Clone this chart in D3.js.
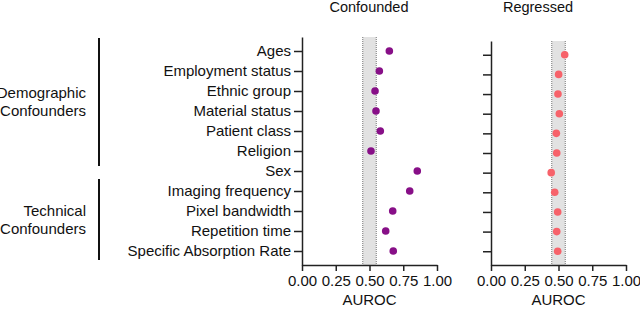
<!DOCTYPE html>
<html>
<head>
<meta charset="utf-8">
<script src="https://cdn.jsdelivr.net/npm/d3@7"></script>
<style>
  body { margin: 0; background: #fff; }
  svg { font-family: "Liberation Sans", Arial, sans-serif; }
  .axis path, .axis line { stroke: #222; stroke-width: 1.5; }
  .axis text { font-size: 15px; fill: #111; font-family: "Liberation Sans", Arial, sans-serif; }
</style>
</head>
<body>
<svg width="640" height="312"></svg>
<script>
  const svg = d3.select('svg');

  const features = ['Ages', 'Employment status', 'Ethnic group', 'Material status',
    'Patient class', 'Religion', 'Sex', 'Imaging frequency', 'Pixel bandwidth',
    'Repetition time', 'Specific Absorption Rate'];
  const confounded = [0.647, 0.573, 0.541, 0.548, 0.58, 0.511, 0.854, 0.798, 0.672, 0.62, 0.676];
  const regressed = [0.546, 0.501, 0.496, 0.506, 0.484, 0.487, 0.446, 0.472, 0.494, 0.487, 0.494];
  const band = [0.45, 0.55];
  const xTicks = [0, 0.25, 0.5, 0.75, 1];
  const groups = [
    { lines: ['Demographic', 'Confounders'], from: 'Ages', to: 'Sex' },
    { lines: ['Technical', 'Confounders'], from: 'Imaging frequency', to: 'Specific Absorption Rate' }
  ];

  const panels = [
    { title: 'Confounded', values: confounded, color: '#870f87', x0: 302, x1: 437, top: 37, titleX: 369, labels: true },
    { title: 'Regressed', values: regressed, color: '#f7626a', x0: 491, x1: 626, top: 41, titleX: 538, labels: false }
  ];
  const bottom = 265;

  panels.forEach(p => {
    const x = d3.scaleLinear().domain([0, 1]).range([p.x0, p.x1]);
    const y = d3.scalePoint().domain(features).range([p.top, bottom]).padding(0.7);
    const g = svg.append('g');

    // chance band
    g.append('rect')
      .attr('x', x(band[0])).attr('y', p.top)
      .attr('width', x(band[1]) - x(band[0]))
      .attr('height', bottom - p.top)
      .attr('fill', '#e2e2e2');
    band.forEach(b => {
      g.append('line')
        .attr('x1', x(b)).attr('x2', x(b))
        .attr('y1', p.top).attr('y2', bottom)
        .attr('stroke', '#777').attr('stroke-width', 1)
        .attr('stroke-dasharray', '1,1');
    });

    const yAxis = d3.axisLeft(y).tickSize(8).tickSizeOuter(0).tickPadding(3);
    if (!p.labels) yAxis.tickFormat('');
    g.append('g').attr('class', 'axis')
      .attr('transform', `translate(${p.x0},0)`)
      .call(yAxis);

    g.append('g').attr('class', 'axis')
      .attr('transform', `translate(0,${bottom})`)
      .call(d3.axisBottom(x).tickValues(xTicks).tickFormat(d3.format('.2f'))
        .tickSize(6).tickSizeOuter(0).tickPadding(4));

    g.selectAll('circle').data(p.values).enter()
      .append('circle')
      .attr('cx', d => x(d))
      .attr('cy', (d, i) => y(features[i]))
      .attr('r', 3.8)
      .attr('fill', p.color);

    g.append('text')
      .attr('x', (p.x0 + p.x1) / 2).attr('y', 305)
      .attr('text-anchor', 'middle')
      .attr('font-size', 15).attr('fill', '#111')
      .text('AUROC');

    g.append('text')
      .attr('x', p.titleX).attr('y', 12)
      .attr('text-anchor', 'middle')
      .attr('font-size', 14.5).attr('fill', '#111')
      .text(p.title);

    if (p.labels) {
      groups.forEach((grp, gi) => {
        const y1 = gi === 0 ? p.top + 1 : y(grp.from) - 12;
        const y2 = gi === 0 ? y(grp.to) - 5 : bottom - 5;
        svg.append('line')
          .attr('x1', 99).attr('x2', 99)
          .attr('y1', y1).attr('y2', y2)
          .attr('stroke', '#111').attr('stroke-width', 2);
        const mid = (y1 + y2) / 2;
        svg.append('text')
          .attr('text-anchor', 'end')
          .attr('font-size', 15).attr('fill', '#111')
          .selectAll('tspan').data(grp.lines).enter()
          .append('tspan')
          .attr('x', 86)
          .attr('y', (d, i) => mid - 4 + i * 18)
          .text(d => d);
      });
    }
  });
</script>
</body>
</html>
